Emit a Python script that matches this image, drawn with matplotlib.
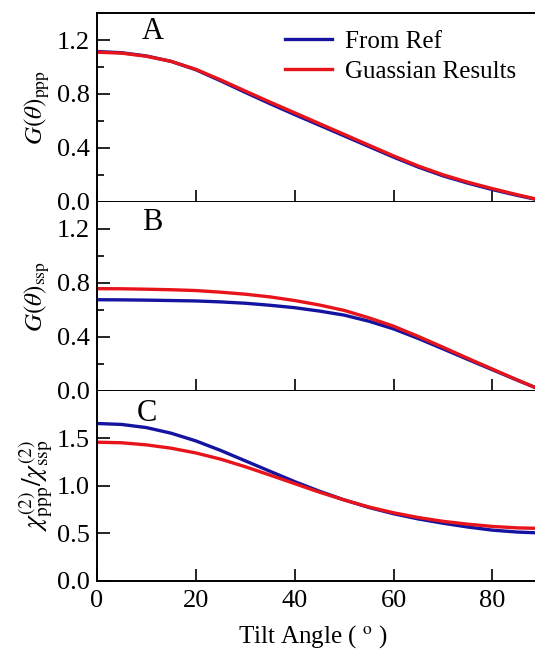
import numpy as np
import matplotlib
matplotlib.use('Agg')
import matplotlib.pyplot as plt

plt.rcParams['font.family'] = ['Liberation Serif', 'DejaVu Serif']
plt.rcParams['mathtext.fontset'] = 'stix'

# tilt angle (degrees)
angle = [0, 5, 10, 15, 20, 25, 30, 35, 40, 45, 50, 55, 60, 65, 70, 75, 80, 85, 90]

# A: G(theta)_ppp
ppp_ref = [1.115, 1.106, 1.082, 1.042, 0.980, 0.898, 0.812, 0.728, 0.647, 0.568, 0.489,
           0.410, 0.331, 0.257, 0.192, 0.138, 0.090, 0.047, 0.008]
ppp_gau = [1.110, 1.103, 1.080, 1.042, 0.983, 0.905, 0.822, 0.740, 0.660, 0.580, 0.500,
           0.420, 0.340, 0.265, 0.200, 0.145, 0.097, 0.052, 0.010]

# B: G(theta)_ssp
ssp_ref = [0.674, 0.673, 0.671, 0.668, 0.665, 0.658, 0.648, 0.633, 0.615, 0.590, 0.560,
           0.515, 0.458, 0.387, 0.310, 0.232, 0.155, 0.078, 0.003]
ssp_gau = [0.756, 0.755, 0.752, 0.748, 0.742, 0.730, 0.715, 0.695, 0.668, 0.635, 0.595,
           0.540, 0.478, 0.402, 0.322, 0.240, 0.160, 0.080, 0.003]

# C: chi_ppp / chi_ssp
ratio_ref = [1.655, 1.645, 1.612, 1.553, 1.472, 1.372, 1.262, 1.152, 1.043, 0.942, 0.851,
             0.771, 0.705, 0.650, 0.605, 0.565, 0.532, 0.512, 0.502]
ratio_gau = [1.458, 1.452, 1.430, 1.395, 1.345, 1.280, 1.200, 1.112, 1.022, 0.932, 0.850,
             0.776, 0.715, 0.665, 0.625, 0.595, 0.571, 0.556, 0.550]

blue = '#1414a0'
red = '#e8141c'
lw = 2.4

fig = plt.figure(figsize=(5.35, 6.56), dpi=100)
left, width = 0.181, 0.832
axA = fig.add_axes([left, 0.6925, width, 0.2875])
axB = fig.add_axes([left, 0.4044, width, 0.2881])
axC = fig.add_axes([left, 0.1148, width, 0.2896])

kw = dict(lw=lw, solid_joinstyle='round')
axA.plot(angle, ppp_ref, color=blue, label='From Ref', **kw)
axA.plot(angle, ppp_gau, color=red, label='Guassian Results', **kw)
axB.plot(angle, ssp_ref, color=blue, **kw)
axB.plot(angle, ssp_gau, color=red, **kw)
axC.plot(angle, ratio_ref, color=blue, **kw)
axC.plot(angle, ratio_gau, color=red, **kw)

for ax in (axA, axB):
    ax.set_ylim(0, 1.4)
    ax.set_yticks([0.0, 0.4, 0.8, 1.2])
    ax.set_yticks([0.2, 0.6, 1.0], minor=True)
    ax.set_yticklabels(['0.0', '0.4', '0.8', '1.2'])
axC.set_ylim(0, 2.0)
axC.set_yticks([0.0, 0.5, 1.0, 1.5])
axC.set_yticklabels(['0.0', '0.5', '1.0', '1.5'])

for ax in (axA, axB, axC):
    ax.set_xlim(0, 90)
    ax.set_xticks([0, 20, 40, 60, 80])
    ax.tick_params(which='major', direction='in', length=9, width=1.2, labelsize=19, pad=5)
    ax.tick_params(which='minor', direction='in', length=5, width=1.2)
    ax.tick_params(axis='x', pad=7)
    for s in ax.spines.values():
        s.set_linewidth(1.4)
    ax.yaxis.set_label_coords(-0.10, 0.5)

axA.tick_params(axis='x', labelbottom=False)
axB.tick_params(axis='x', labelbottom=False)
axB.spines['top'].set_visible(False)
axC.spines['top'].set_visible(False)

axA.set_ylabel(r'$G(\theta)_{\rm ppp}$', fontsize=18)
axB.set_ylabel(r'$G(\theta)_{\rm ssp}$', fontsize=18)
axC.set_ylabel(r'$\chi^{(2)}_{\rm ppp}/\chi^{(2)}_{\rm ssp}$', fontsize=20)
axC.yaxis.set_label_coords(-0.095, 0.5)
axC.set_xlabel(r'Tilt Angle ( $^{\rm o}$ )', fontsize=18)
axC.xaxis.set_label_coords(0.485, -0.225)

axA.text(0.126, 0.9, 'A', transform=axA.transAxes, fontsize=22, ha='center', va='center')
axB.text(0.124, 0.89, 'B', transform=axB.transAxes, fontsize=22, ha='center', va='center')
axC.text(0.113, 0.88, 'C', transform=axC.transAxes, fontsize=22, ha='center', va='center')

axA.legend(loc='upper left', bbox_to_anchor=(0.4225, 0.91), frameon=False, fontsize=18,
           handlelength=1.9, handletextpad=0.5, labelspacing=0.3, borderpad=0, borderaxespad=0)

fig.savefig('out.png', dpi=100)
